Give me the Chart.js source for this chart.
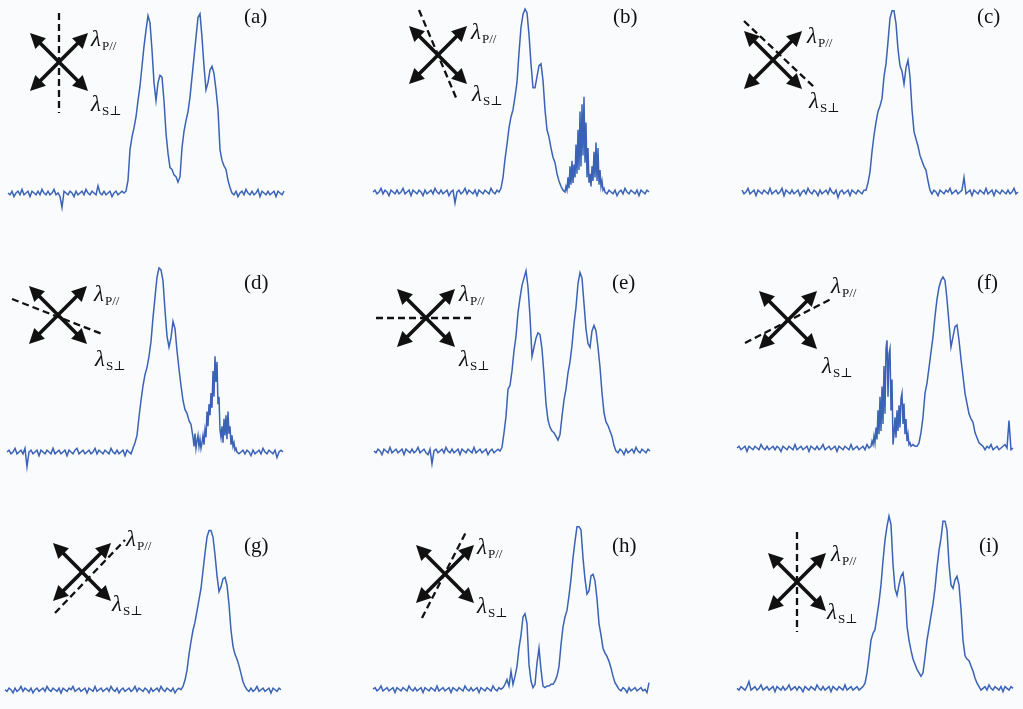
<!DOCTYPE html>
<html>
<head>
<meta charset="utf-8">
<script src="https://cdn.jsdelivr.net/npm/chart.js@4.4.1/dist/chart.umd.min.js"></script>
<style>
  body { margin: 0; background: #fafbfd; }
  #wrap { position: relative; width: 1023px; height: 709px; overflow: hidden; }
  #wrap canvas { position: absolute; left: 0; top: 0; pointer-events: none; }
</style>
</head>
<body>
<div id="wrap"></div>
<script>
/* spectra, relative intensity (0 = baseline, 100 = highest peak), one sample per step */
const spectrumA = [
  0,-1,1,-2,0,1,-1,2,-1,0,  1,-2,1,0,-1,1,-1,2,0,-1,
  1,-1,0,2,-1,0,-2,-8,1,0,  -1,1,0,-2,1,-1,0,1,-1,2,
  0,-1,1,0,-1,4,0,-1,1,-1,  0,1,-2,0,1,-1,0,1,0,1,
  7,24,31,36,42,51,59,70,81,90,  98,94,79,61,51,61,65,64,51,33,
  22,14,13,10,9,6,9,25,34,40,  45,53,64,75,86,97,99,86,70,57,
  61,68,70,66,57,46,24,18,15,13,  7,3,0,-1,1,-2,0,1,-1,2,
  0,-1,1,-1,0,2,-2,1,0,-1,  1,-1,0,1,-2,1,0,-1,1
];
const spectrumB = [
  0,1,-1,0,2,-1,1,0,-2,1,  0,-1,1,-1,0,2,-1,0,1,-2,
  1,0,-1,1,0,-2,1,-1,0,1,  -1,2,0,-1,1,-1,0,1,-2,0,
  1,-6,0,1,-1,0,2,-1,1,0,  -1,1,-2,1,0,-1,1,0,-1,2,
  0,-1,1,0,2,8,18,26,35,41,  45,52,60,76,90,97,100,98,86,70,
  57,57,63,69,70,61,45,34,30,24,  19,16,10,6,3,1,0,3,9,2,
  18,4,33,12,53,20,40,8,22,3,  17,6,27,5,12,2,1,-1,1,0,
  -1,1,-2,0,1,-1,2,0,-1,1,  0,-1,1,-2,1,0,-1,1,0
];
// comb part of (b), half-step samples from index 96 on
const combB = [
  0,3,1,8,2,14,4,17,5,15,  8,26,10,34,12,44,14,48,20,52,
  16,38,8,24,5,10,3,14,6,22,  8,27,6,24,4,12,3,6,1,2,
  0
];
const spectrumC = [
  1,-1,0,2,-1,0,1,-2,1,0,  -1,1,0,-1,2,-1,0,1,-1,0,
  2,-2,1,0,-1,1,-1,0,1,-2,  0,1,-1,2,0,-1,1,0,-2,1,
  -1,0,1,-1,2,0,-1,1,-3,0,  1,-1,0,1,-2,1,0,-1,1,0,
  -1,1,1,5,11,22,31,38,44,47,  51,63,70,82,95,99,99,92,78,69,
  66,59,68,72,63,45,33,29,25,20,  17,14,12,6,1,-1,1,0,-2,1,
  0,-1,1,0,2,-1,0,1,-1,0,  1,8,-1,0,1,-2,1,0,-1,1,
  0,-1,2,-1,0,1,-2,1,0,-1,  1,0,-1,1,-1,0,2,-1,0
];
const spectrumD = [
  0,1,-1,0,2,-1,0,1,-1,2,  -8,0,1,-1,0,1,-2,1,0,-1,
  1,0,-1,2,-1,0,1,-1,0,1,  -2,1,0,-1,1,2,-1,0,1,-1,
  0,1,-1,0,2,-1,1,0,-1,1,  0,-1,2,0,-1,1,-1,0,1,-2,
  1,0,-1,2,5,9,19,28,36,42,  46,52,60,73,84,95,100,99,93,77,
  63,57,62,71,67,55,45,36,28,23,  21,17,15,8,3,9,4,6,2,8,
  20,26,30,41,52,42,22,10,8,16,  12,19,6,5,2,1,-1,0,1,-1,
  1,0,-2,1,-1,0,1,-1,2,0,  -1,1,0,-1,1,-3,0,1,0
];
// comb part of (d), half-step samples from index 93 on
const combD = [
  8,3,10,2,6,9,3,7,2,5,  9,4,12,8,22,14,26,20,32,24,
  44,30,52,38,49,26,30,12,8,14,  5,18,9,20,7,22,10,14,4,9,
  3,5,1,2,0
];
const spectrumE = [
  0,-1,1,0,-2,1,0,-1,2,-1,  0,1,-1,0,1,-2,1,0,-1,1,
  -1,0,2,-1,0,1,-1,-2,1,-7,  0,1,-1,0,1,-1,2,0,-1,1,
  -1,0,1,-2,1,0,-1,1,0,-1,  2,-1,0,1,-1,0,1,-2,0,1,
  -1,0,1,0,2,10,19,34,36,44,  55,63,76,84,91,95,99,90,74,52,
  57,62,65,64,56,42,26,17,13,11,  10,8,6,9,19,28,34,43,49,58,
  70,79,92,98,95,81,67,59,57,66,  69,66,57,46,32,21,16,14,11,8,
  3,0,-1,1,0,-2,1,-1,0,1,  -1,2,0,-1,1,0,-1,1,0
];
const spectrumF = [
  0,1,-1,0,1,-2,1,0,-1,1,  0,-1,2,0,-1,1,-1,0,1,-1,
  1,0,-2,1,0,-1,1,0,-1,2,  -1,0,1,-1,0,1,-2,1,0,-1,
  1,-1,0,2,-1,0,1,-1,0,1,  -2,1,0,-1,1,0,-1,2,-1,0,
  1,-1,0,1,-1,2,0,2,6,4,  11,8,26,50,61,63,45,59,3,14,
  22,12,27,31,14,19,5,3,2,1,  1,3,9,18,32,38,47,56,65,77,
  87,94,98,100,98,87,73,59,65,71,  72,63,52,42,32,26,20,17,15,9,
  6,3,2,1,-1,1,0,2,-1,0,  1,-1,0,1,2,0,16,-1,0
];
// comb part of (f), half-step samples from index 67 on
const combF = [
  1,4,2,7,3,12,5,22,8,30,  10,36,14,48,20,58,63,30,55,58,
  22,40,2,8,18,6,22,10,25,12,  29,32,14,26,8,17,4,8,2,3,
  1
];
const spectrumG = [
  0,-1,1,0,-2,1,-1,0,2,-1,  1,0,-1,1,-2,0,1,-1,0,1,
  -1,2,0,-1,1,0,-1,1,-2,1,  0,-1,1,0,2,-1,0,1,-1,0,
  1,-2,1,0,-1,2,-1,0,1,-1,  0,1,-1,2,0,-1,1,-2,0,1,
  -1,0,1,-1,0,2,-1,1,0,-1,  1,0,-2,1,-1,0,1,-1,2,0,
  -1,1,0,-1,1,-2,0,1,0,2,  6,12,22,30,37,42,49,56,63,74,
  85,95,99,99,95,84,71,61,64,69,  70,65,53,37,27,22,19,15,10,5,
  2,0,-1,1,-1,0,2,-1,0,1,  -1,0,1,-2,1,0,-1,1,0
];
const spectrumH = [
  0,1,-1,0,2,-1,0,1,-1,0,  1,-2,1,0,-1,1,0,-1,2,0,
  -1,1,-1,0,1,-2,1,0,-1,1,  0,-1,2,-1,0,1,-1,0,1,-2,
  1,0,-1,1,0,-1,2,0,-1,1,  -1,0,1,-2,1,0,-1,1,0,-1,
  2,0,-1,1,0,1,3,6,2,11,  3,8,14,25,33,44,46,40,15,5,
  1,3,16,25,12,2,1,2,2,3,  3,5,8,14,27,38,44,48,57,67,
  80,90,99,99,97,80,67,58,60,69,  70,66,55,40,33,25,22,20,17,13,
  8,4,2,0,-1,1,0,-2,1,-1,  0,1,-1,0,1,-1,0,-2,4
];
const spectrumI = [
  0,-1,1,0,-1,1,4,-1,0,1,  -1,0,2,-1,0,1,-1,0,1,-2,
  1,0,-1,1,-1,0,2,-1,0,1,  -1,1,0,-2,1,0,-1,1,0,-1,
  2,0,-1,1,-1,0,1,-2,1,0,  -1,1,0,-1,2,-1,0,1,-1,0,
  1,-1,0,1,3,9,18,28,32,34,  42,50,60,74,86,94,100,95,72,58,
  54,60,65,67,58,36,28,22,17,14,  11,9,7,9,18,28,35,42,49,58,
  70,80,87,97,97,92,72,60,58,63,  65,60,46,28,19,17,16,13,10,6,
  3,1,-1,0,1,-1,2,0,-1,1,  0,-1,1,-2,1,0,-1,1,0
];
const panelTags = ['(a)', '(b)', '(c)', '(d)', '(e)', '(f)', '(g)', '(h)', '(i)'];
const pLabel = 'P//';
const sLabel = 'S\u22A5';

// where each panel sits on the page (trace box, cross centre, dashed line, text)
const layout = [
  { data: spectrumA, left: 8,   top: 12,  base: 193, cx: 59,  cy: 62,  dash: [59, 13, 59, 113],   p: [91, 46],   s: [91, 111],  tag: [244, 17] },
  { data: spectrumB, left: 373, top: 9,   base: 192, cx: 438, cy: 55,  dash: [419, 10, 457, 100], p: [471, 39],  s: [472, 101], tag: [613, 17], fine: combB, fineAt: 96 },
  { data: spectrumC, left: 742, top: 9,   base: 192, cx: 773, cy: 60,  dash: [744, 21, 815, 88],  p: [807, 43],  s: [809, 108], tag: [977, 17] },
  { data: spectrumD, left: 7,   top: 268, base: 452, cx: 58,  cy: 315, dash: [12, 299, 102, 334], p: [94, 301],  s: [95, 366],  tag: [244, 283], fine: combD, fineAt: 93 },
  { data: spectrumE, left: 374, top: 269, base: 451, cx: 426, cy: 318, dash: [376, 318, 475, 318], p: [459, 301], s: [459, 366], tag: [612, 283] },
  { data: spectrumF, left: 737, top: 277, base: 448, cx: 788, cy: 320, dash: [745, 343, 833, 298], p: [831, 293], s: [822, 373], tag: [977, 283], fine: combF, fineAt: 67 },
  { data: spectrumG, left: 5,   top: 529, base: 701, cx: 82,  cy: 572, dash: [55, 613, 125, 540], p: [126, 546], s: [112, 611], tag: [244, 546] },
  { data: spectrumH, left: 373, top: 525, base: 701, cx: 445, cy: 574, dash: [422, 618, 467, 530], p: [477, 554], s: [477, 613], tag: [612, 546] },
  { data: spectrumI, left: 737, top: 516, base: 699, cx: 797, cy: 582, dash: [797, 532, 797, 632], p: [831, 561], s: [827, 619], tag: [979, 546] }
];

const W = 1023, H = 709, STEP = 2, YMIN = -12, YMAX = 100;

// coarse samples, with the finer comb samples put in where a panel has them
function buildPoints(main, fine, at) {
  const pts = [];
  const end = fine ? at + (fine.length - 1) / 2 : -1;
  main.forEach(function(v, i) {
    if (fine && i >= at && i <= end) return;
    pts.push({ x: i, y: v });
  });
  if (fine) {
    fine.forEach(function(v, k) { pts.push({ x: at + k / 2, y: v }); });
  }
  return pts.sort(function(a, b) { return a.x - b.x; });
}

function arrowHead(ctx, x0, y0, x1, y1) {
  const a = Math.atan2(y1 - y0, x1 - x0);
  const L = 15, w = 7.5;
  ctx.beginPath();
  ctx.moveTo(x1, y1);
  ctx.lineTo(x1 - L * Math.cos(a) + w * Math.sin(a), y1 - L * Math.sin(a) - w * Math.cos(a));
  ctx.lineTo(x1 - L * Math.cos(a) - w * Math.sin(a), y1 - L * Math.sin(a) + w * Math.cos(a));
  ctx.closePath();
  ctx.fill();
}

function drawLambda(ctx, pos, sub) {
  ctx.font = 'italic 23px "Liberation Serif", "DejaVu Serif", serif';
  ctx.fillText('\u03BB', pos[0], pos[1]);
  const w = ctx.measureText('\u03BB').width;
  ctx.font = '13px "Liberation Serif", "DejaVu Serif", serif';
  ctx.fillText(sub, pos[0] + w + 1, pos[1] + 4);
}

// polarizer cross, dashed axis and labels
const decor = {
  id: 'decor',
  afterDraw(chart, args, o) {
    const ctx = chart.ctx;
    const d = 29;
    ctx.save();
    ctx.strokeStyle = '#111';
    ctx.fillStyle = '#111';

    ctx.lineWidth = 2.3;
    ctx.setLineDash([7, 4]);
    ctx.beginPath();
    ctx.moveTo(o.dash[0], o.dash[1]);
    ctx.lineTo(o.dash[2], o.dash[3]);
    ctx.stroke();
    ctx.setLineDash([]);

    ctx.lineWidth = 3.6;
    [[-1, -1, 1, 1], [-1, 1, 1, -1]].forEach(function(s) {
      const x0 = o.cx + s[0] * d, y0 = o.cy + s[1] * d;
      const x1 = o.cx + s[2] * d, y1 = o.cy + s[3] * d;
      const k = 10 / Math.hypot(x1 - x0, y1 - y0);
      ctx.beginPath();
      ctx.moveTo(x0 + (x1 - x0) * k, y0 + (y1 - y0) * k);
      ctx.lineTo(x1 - (x1 - x0) * k, y1 - (y1 - y0) * k);
      ctx.stroke();
      arrowHead(ctx, x0, y0, x1, y1);
      arrowHead(ctx, x1, y1, x0, y0);
    });

    ctx.textBaseline = 'alphabetic';
    drawLambda(ctx, o.p, pLabel);
    drawLambda(ctx, o.s, sLabel);

    ctx.font = '21px "Liberation Serif", "DejaVu Serif", serif';
    ctx.textBaseline = 'middle';
    ctx.fillText(o.tag, o.tagPos[0], o.tagPos[1]);
    ctx.restore();
  }
};

const wrap = document.getElementById('wrap');

layout.forEach(function(p, n) {
  const canvas = document.createElement('canvas');
  canvas.width = W;
  canvas.height = H;
  wrap.appendChild(canvas);

  const unit = (p.base - p.top) / YMAX;
  const span = (p.data.length - 1) * STEP;

  new Chart(canvas, {
    type: 'line',
    data: {
      datasets: [{
        data: buildPoints(p.data, p.fine, p.fineAt),
        borderColor: '#3a63b6',
        borderWidth: 1.5,
        pointRadius: 0,
        tension: 0,
        clip: false
      }]
    },
    options: {
      responsive: false,
      animation: false,
      events: [],
      layout: {
        padding: {
          left: p.left,
          right: W - p.left - span,
          top: p.top,
          bottom: H - (p.base - YMIN * unit)
        }
      },
      scales: {
        x: { type: 'linear', display: false, min: 0, max: p.data.length - 1 },
        y: { display: false, min: YMIN, max: YMAX }
      },
      plugins: {
        legend: { display: false },
        tooltip: { enabled: false },
        decor: { cx: p.cx, cy: p.cy, dash: p.dash, p: p.p, s: p.s, tag: panelTags[n], tagPos: p.tag }
      }
    },
    plugins: [decor]
  });
});
</script>
</body>
</html>
